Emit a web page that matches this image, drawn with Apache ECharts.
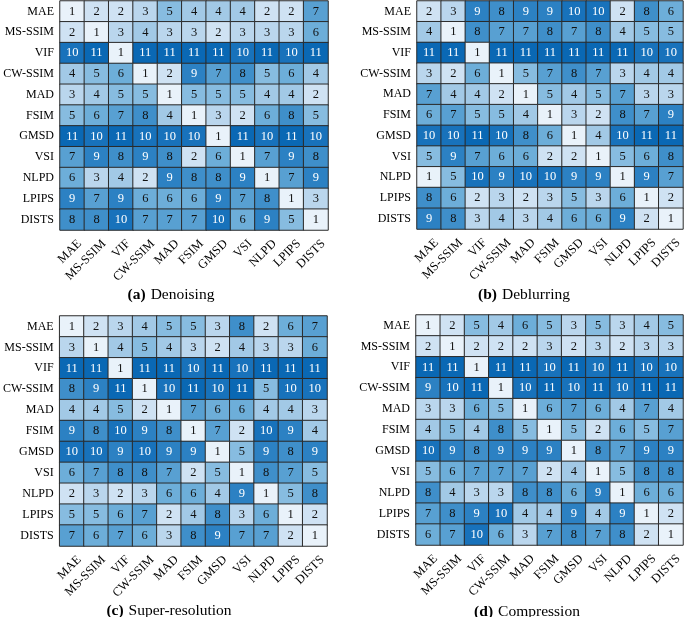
<!DOCTYPE html>
<html>
<head>
<meta charset="utf-8">
<script src="https://cdn.jsdelivr.net/npm/echarts@6/dist/echarts.min.js"></script>
<style>html,body{margin:0;padding:0;background:#fff;}#c{width:685px;height:617px;}</style>
</head>
<body>
<div id="c"></div>
<script>
const metrics = ['MAE','MS-SSIM','VIF','CW-SSIM','MAD','FSIM','GMSD','VSI','NLPD','LPIPS','DISTS'];

const denoising = [
  [1,2,2,3,5,4,4,4,2,2,7],
  [2,1,3,4,3,3,2,3,3,3,6],
  [10,11,1,11,11,11,11,10,11,10,11],
  [4,5,6,1,2,9,7,8,5,6,4],
  [3,4,5,5,1,5,5,5,4,4,2],
  [5,6,7,8,4,1,3,2,6,8,5],
  [11,10,11,10,10,10,1,11,10,11,10],
  [7,9,8,9,8,2,6,1,7,9,8],
  [6,3,4,2,9,8,8,9,1,7,9],
  [9,7,9,6,6,6,9,7,8,1,3],
  [8,8,10,7,7,7,10,6,9,5,1]
];
const deblurring = [
  [2,3,9,8,9,9,10,10,2,8,6],
  [4,1,8,7,7,8,7,8,4,5,5],
  [11,11,1,11,11,11,11,11,11,10,10],
  [3,2,6,1,5,7,8,7,3,4,4],
  [7,4,4,2,1,5,4,5,7,3,3],
  [6,7,5,5,4,1,3,2,8,7,9],
  [10,10,11,10,8,6,1,4,10,11,11],
  [5,9,7,6,6,2,2,1,5,6,8],
  [1,5,10,9,10,10,9,9,1,9,7],
  [8,6,2,3,2,3,5,3,6,1,2],
  [9,8,3,4,3,4,6,6,9,2,1]
];
const superResolution = [
  [1,2,3,4,5,5,3,8,2,6,7],
  [3,1,4,5,4,3,2,4,3,3,6],
  [11,11,1,11,11,10,11,10,11,11,11],
  [8,9,11,1,10,11,10,11,5,10,10],
  [4,4,5,2,1,7,6,6,4,4,3],
  [9,8,10,9,8,1,7,2,10,9,4],
  [10,10,9,10,9,9,1,5,9,8,9],
  [6,7,8,8,7,2,5,1,8,7,5],
  [2,3,2,3,6,6,4,9,1,5,8],
  [5,5,6,7,2,4,8,3,6,1,2],
  [7,6,7,6,3,8,9,7,7,2,1]
];
const compression = [
  [1,2,5,4,6,5,3,5,3,4,5],
  [2,1,2,2,2,3,2,3,2,3,3],
  [11,11,1,11,11,10,11,10,11,10,10],
  [9,10,11,1,10,11,10,11,10,11,11],
  [3,3,6,5,1,6,7,6,4,7,4],
  [4,5,4,8,5,1,5,2,6,5,7],
  [10,9,8,9,9,9,1,8,7,9,9],
  [5,6,7,7,7,2,4,1,5,8,8],
  [8,4,3,3,8,8,6,9,1,6,6],
  [7,8,9,10,4,4,9,4,9,1,2],
  [6,7,10,6,3,7,8,7,8,2,1]
];
const panelLetters = ['(a)','(b)','(c)','(d)'];
const panelNames = ['Denoising','Deblurring','Super-resolution','Compression'];
const panelData = [denoising, deblurring, superResolution, compression];

const palette = ['#e9f2fa','#cfe2f3','#bad6ed','#a2c9e6','#87bce0','#6daed9','#58a0d2','#3f8fca','#2c81c3','#1872bb','#0a68b4'];
const FONT = 'Liberation Serif';

const grids = [
  {left: 60, top: 1, width: 268, height: 229},
  {left: 417, top: 1, width: 266, height: 228},
  {left: 57, top: 316, width: 270, height: 230},
  {left: 416, top: 315, width: 267, height: 230}
];
const captions = [
  {x: 166, y: 281}, {x: 519, y: 281}, {x: 164, y: 597}, {x: 522, y: 598}
];

const xAxes = [], yAxes = [], series = [], titles = [];
panelData.forEach((mat, k) => {
  xAxes.push({
    type: 'category', gridIndex: k, data: metrics,
    axisLine: {show: false}, axisTick: {show: false}, splitLine: {show: false},
    axisLabel: {rotate: 45, interval: 0, margin: 10, verticalAlign: 'top', padding: [0, -4, 0, 0],
      fontFamily: FONT, fontSize: 12.5, color: '#000'}
  });
  yAxes.push({
    type: 'category', gridIndex: k, data: metrics, inverse: true,
    axisLine: {show: false}, axisTick: {show: false}, splitLine: {show: false},
    axisLabel: {interval: 0, margin: 6, fontFamily: FONT, fontSize: 12, color: '#000'}
  });
  const data = [];
  mat.forEach((row, i) => row.forEach((v, j) => {
    data.push({value: [j, i, v], label: {color: v >= 9 ? '#ffffff' : '#111111'}});
  }));
  series.push({
    type: 'heatmap', xAxisIndex: k, yAxisIndex: k, data: data,
    itemStyle: {borderColor: '#2a2a2a', borderWidth: 1},
    label: {show: true, fontFamily: FONT, fontSize: 12.5, formatter: p => p.data.value[2]},
    emphasis: {disabled: true}
  });
  titles.push({
    text: '{b|' + panelLetters[k] + '} {n|' + panelNames[k] + '}',
    left: captions[k].x, top: captions[k].y, textAlign: 'center',
    textStyle: {
      fontWeight: 'normal',
      rich: {
        b: {fontFamily: FONT, fontSize: 15.5, fontWeight: 'bold', color: '#000'},
        n: {fontFamily: FONT, fontSize: 15.5, fontWeight: 'normal', color: '#000'}
      }
    }
  });
});

const chart = echarts.init(document.getElementById('c'), null, {renderer: 'canvas'});
chart.setOption({
  animation: false,
  backgroundColor: '#fff',
  title: titles,
  grid: grids,
  xAxis: xAxes,
  yAxis: yAxes,
  visualMap: {
    type: 'continuous', min: 1, max: 11, show: false, seriesIndex: [0,1,2,3],
    inRange: {color: palette}
  },
  series: series
});
</script>
</body>
</html>
